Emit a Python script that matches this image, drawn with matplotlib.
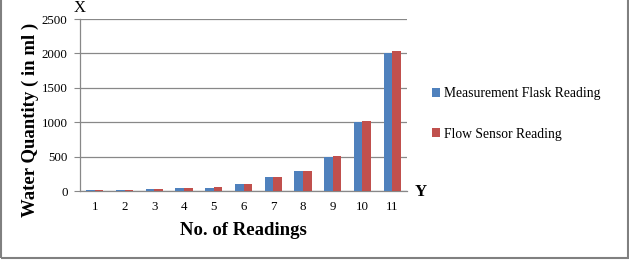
import matplotlib
matplotlib.use("Agg")
import matplotlib.pyplot as plt
import numpy as np
from matplotlib.patches import Rectangle

categories = ["1", "2", "3", "4", "5", "6", "7", "8", "9", "10", "11"]
flask = [12, 12, 27, 43, 44, 100, 200, 290, 500, 1000, 2000]
sensor = [13, 13, 28, 44, 58, 102, 202, 292, 508, 1020, 2035]
series_names = ["Measurement Flask Reading", "Flow Sensor Reading"]
yticks = [0, 500, 1000, 1500, 2000, 2500]

plt.rcParams['font.family'] = ['Liberation Serif', 'DejaVu Serif']

W, H = 629, 260
fig = plt.figure(figsize=(W / 100, H / 100), dpi=100)
ax = fig.add_axes([80 / W, 1 - 191 / H, (407 - 80) / W, (191 - 19) / H])

x = np.arange(len(categories))
bw = 0.29
blue = "#4F81BD"
red = "#C0504D"
ax.bar(x - bw / 2, flask, bw, color=blue, label=series_names[0], zorder=3)
ax.bar(x + bw / 2, sensor, bw, color=red, label=series_names[1], zorder=3)

ax.set_xlim(-0.5, len(categories) - 0.5)
ax.set_ylim(0, 2500)
ax.set_yticks(yticks)
ax.set_yticklabels([str(v) for v in yticks], fontsize=9.3)
ax.set_xticks(x)
ax.set_xticklabels(categories, fontsize=9.3)
ax.tick_params(axis='x', length=0, pad=7)
ax.tick_params(axis='y', length=4, width=0.8, color="#888888", pad=5)
ax.yaxis.grid(True, color="#888888", linewidth=0.9, zorder=0)
for s in ["top", "right"]:
    ax.spines[s].set_visible(False)
ax.spines["left"].set_color("#888888")
ax.spines["bottom"].set_color("#888888")
ax.spines["left"].set_linewidth(0.9)
ax.spines["bottom"].set_linewidth(0.9)

ax.set_xlabel("No. of Readings", fontsize=13.5, fontweight="bold", labelpad=7)
ax.set_ylabel("Water Quantity ( in ml )", fontsize=13.5, fontweight="bold")
ax.yaxis.set_label_coords((39 - 80) / 327, (191 - 120) / 172)

fig.text(80 / W, 1 - 8 / H, "X", fontsize=12, ha="center", va="center")
fig.text(421 / W, 1 - 192 / H, "Y", fontsize=12, fontweight="bold", ha="center", va="center")

leg = fig.legend(loc="center left", bbox_to_anchor=(420 / W, 1 - 114 / H),
                 frameon=False, fontsize=9.8, handlelength=0.6, handleheight=0.6,
                 handletextpad=0.25, labelspacing=2.0)

fig.patches.append(Rectangle((0.5 / W, 1 - 257.5 / H), 627 / W, 260 / H,
                             transform=fig.transFigure, fill=False,
                             edgecolor="#808080", linewidth=1.5))

fig.savefig("out.png", dpi=100)
